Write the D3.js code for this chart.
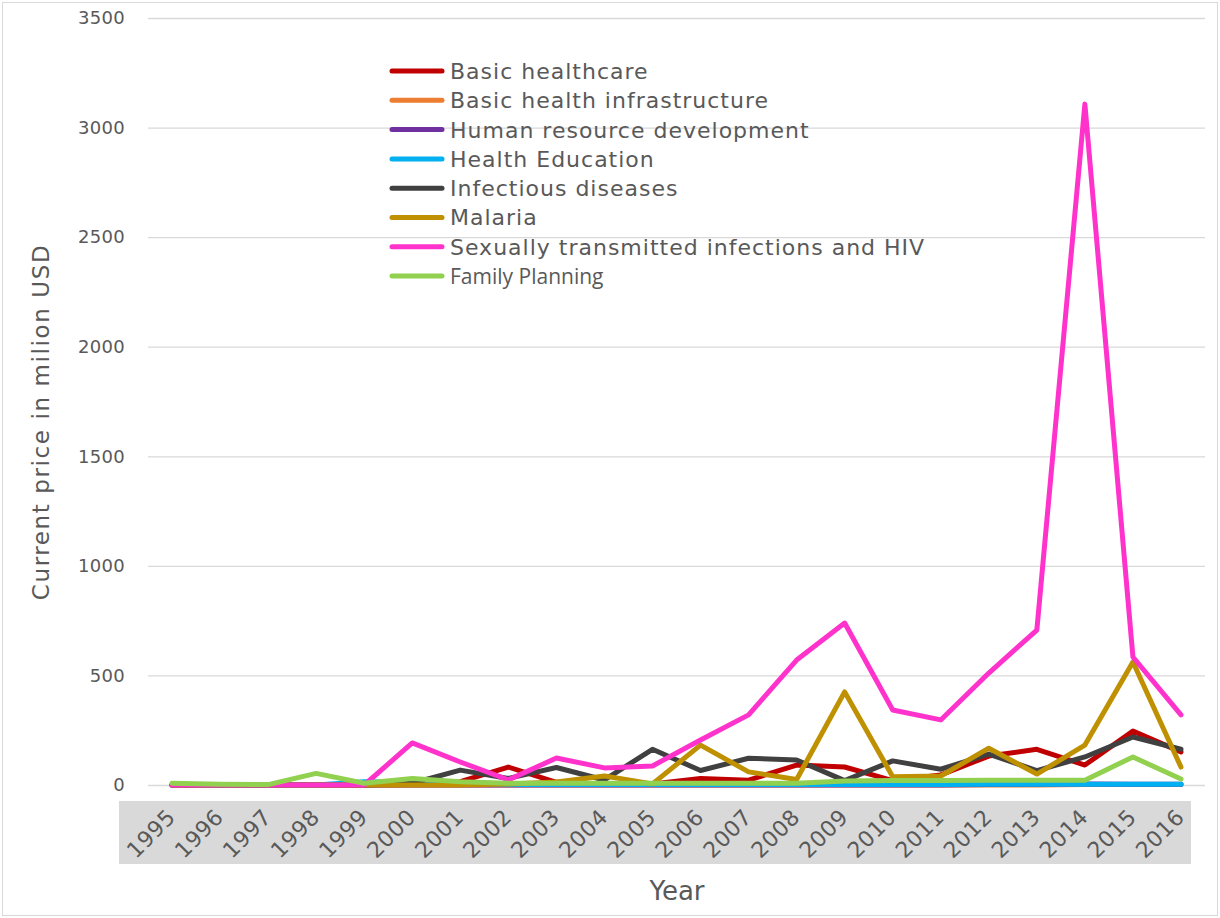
<!DOCTYPE html>
<html>
<head>
<meta charset="utf-8">
<script src="https://cdn.jsdelivr.net/npm/d3@7"></script>
<style>
  body { margin: 0; background: #fff; }
  svg { display: block; }
</style>
</head>
<body>
<svg id="chart" width="1220" height="918"></svg>
<script>
let years = [1995, 1996, 1997, 1998, 1999, 2000, 2001, 2002, 2003, 2004, 2005, 2006, 2007, 2008, 2009, 2010, 2011, 2012, 2013, 2014, 2015, 2016];

let seriesNames = ["Basic healthcare", "Basic health infrastructure", "Human resource development", "Health Education",
                   "Infectious diseases", "Malaria", "Sexually transmitted infections and HIV", "Family Planning"];
let seriesColors = ["#C00000", "#ED7D31", "#7030A0", "#00B0F0", "#404040", "#BF9000", "#FF33CC", "#92D050"];

let basicHealthcare  = [0, 0, 0, 0, 0, 2, 15, 82, 12, 5, 5, 30, 22, 91, 82, 20, 46, 132, 163, 91, 246, 151];
let infrastructure   = [0, 0, 0, 0, 0, 0, 0, 0, 0, 0, 0, 0, 0, 0, 0, 0, 0, 0, 0, 2, 2, 2];
let humanResources   = [0, 0, 0, 0, 0, 0, 0, 0, 0, 0, 0, 0, 0, 0, 0, 0, 0, 2, 3, 4, 3, 3];
let healthEducation  = [0, 0, 0, 0, 15, 12, 5, 2, 2, 2, 2, 2, 2, 2, 2, 2, 2, 3, 3, 3, 3, 3];
let infectious       = [0, 0, 0, 0, 0, 8, 68, 30, 80, 23, 163, 66, 122, 114, 20, 110, 72, 141, 66, 128, 219, 163];
let malaria          = [0, 0, 0, 0, 0, 0, 0, 5, 14, 41, 5, 182, 60, 25, 425, 38, 41, 168, 50, 182, 561, 82];
let stiHiv           = [0, 0, 0, 0, 0, 192, 105, 23, 123, 78, 87, 205, 320, 570, 739, 342, 297, 511, 707, 3107, 584, 320];
let familyPlanning   = [8, 3, 2, 53, 8, 30, 15, 8, 8, 8, 8, 8, 8, 8, 18, 20, 20, 22, 22, 22, 128, 27];

let seriesValues = [basicHealthcare, infrastructure, humanResources, healthEducation, infectious, malaria, stiHiv, familyPlanning];
let yTicks = [0, 500, 1000, 1500, 2000, 2500, 3000, 3500];

let svg = d3.select("#chart");
let plot = { left: 148, right: 1205, top: 18, bottom: 785 };
let font = "'DejaVu Sans', Verdana, sans-serif";

// outer chart border
svg.append("rect")
   .attr("x", 2.5).attr("y", 2.5)
   .attr("width", 1215).attr("height", 913)
   .attr("fill", "#fff")
   .attr("stroke", "#D9D9D9")
   .attr("stroke-width", 1);

let xScale = d3.scalePoint()
               .domain(years)
               .range([plot.left, plot.right])
               .padding(0.5);

let yScale = d3.scaleLinear()
               .domain([0, 3500])
               .range([plot.bottom, plot.top]);

//gridlines + y labels
let yAxis = d3.axisLeft(yScale)
              .tickValues(yTicks)
              .tickSize(-(plot.right - plot.left))
              .tickPadding(23)
              .tickFormat(d3.format("d"));

let yg = svg.append("g")
   .attr("transform", `translate(${plot.left},0)`)
   .call(yAxis);
yg.select(".domain").remove();
yg.selectAll(".tick line").attr("stroke", "#D9D9D9").attr("stroke-width", 1.3);
yg.selectAll(".tick text")
  .attr("fill", "#595959")
  .style("font-family", font)
  .style("font-size", "18px")
  .style("letter-spacing", "0.3px");

//gray band behind year labels
svg.append("rect")
   .attr("x", 119).attr("y", 801)
   .attr("width", 1072).attr("height", 63)
   .attr("fill", "#D9D9D9");

//x labels, rotated
svg.append("g")
   .selectAll("text")
   .data(years)
   .enter()
   .append("text")
   .attr("transform", (d) => `translate(${xScale(d) - 7},${807}) rotate(-45)`)
   .attr("text-anchor", "end")
   .attr("dy", "0.75em")
   .attr("fill", "#595959")
   .style("font-family", font)
   .style("font-size", "22px")
   .style("letter-spacing", "0.4px")
   .text((d) => d);

//lines
let line = d3.line()
             .x((d, i) => xScale(years[i]))
             .y((d) => yScale(d));

svg.append("g")
   .selectAll("path")
   .data(seriesValues)
   .enter()
   .append("path")
   .attr("d", (d) => line(d))
   .attr("fill", "none")
   .attr("stroke", (d, i) => seriesColors[i])
   .attr("stroke-width", 5)
   .attr("stroke-linejoin", "round")
   .attr("stroke-linecap", "round");

//legend
let legend = svg.append("g").attr("id", "legend");
let rows = legend.selectAll("g")
                 .data(seriesNames)
                 .enter()
                 .append("g")
                 .attr("transform", (d, i) => `translate(390, ${71 + i * 29.3})`);
rows.append("line")
    .attr("x1", 2).attr("x2", 52)
    .attr("y1", 0).attr("y2", 0)
    .attr("stroke", (d, i) => seriesColors[i])
    .attr("stroke-width", 5)
    .attr("stroke-linecap", "round");
rows.append("text")
    .attr("x", 60)
    .attr("y", 0)
    .attr("dy", "0.36em")
    .attr("fill", "#595959")
    .style("font-family", (d, i) => i === 7 ? "'Open Sans', sans-serif" : font)
    .style("font-size", (d, i) => i === 7 ? "21px" : "22px")
    .style("letter-spacing", (d, i) => i === 7 ? "0px" : "1px")
    .text((d) => d);

//axis titles
svg.append("text")
   .attr("transform", `translate(49, ${422}) rotate(-90)`)
   .attr("text-anchor", "middle")
   .attr("fill", "#595959")
   .style("font-family", font)
   .style("font-size", "23px")
   .style("letter-spacing", "1.6px")
   .text("Current price in milion USD");

svg.append("text")
   .attr("x", 677)
   .attr("y", 900)
   .attr("text-anchor", "middle")
   .attr("fill", "#595959")
   .style("font-family", font)
   .style("font-size", "26px")
   .text("Year");
</script>
</body>
</html>
